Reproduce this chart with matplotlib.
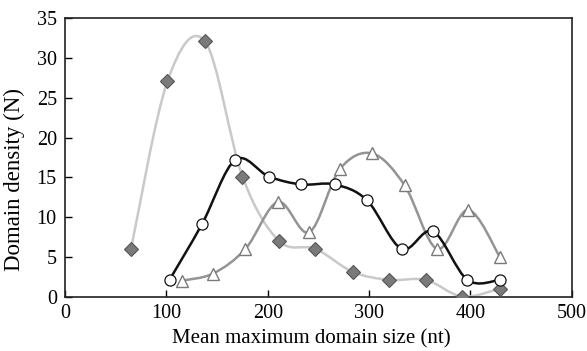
import numpy as np
import matplotlib.pyplot as plt
from matplotlib.path import Path
from matplotlib.patches import PathPatch

plt.rcParams['font.family'] = ['Liberation Serif', 'DejaVu Serif']

# diamonds (light grey curve)
dia_x = [65, 101, 138, 175, 211, 247, 284, 320, 356, 392, 429]
dia_y = [6.0, 27.1, 32.1, 15.1, 7.0, 6.0, 3.1, 2.1, 2.1, 0.0, 1.0]
# circles (black curve)
cir_x = [103, 135, 168, 201, 233, 266, 298, 332, 363, 397, 429]
cir_y = [2.1, 9.1, 17.2, 15.1, 14.1, 14.1, 12.1, 6.0, 8.2, 2.1, 2.1]
# triangles (mid grey curve)
tri_x = [115, 146, 178, 210, 241, 271, 303, 335, 367, 398, 429]
tri_y = [2.0, 2.9, 6.0, 11.9, 8.1, 16.0, 18.0, 14.0, 6.0, 10.9, 5.0]


def smooth_path(xs, ys):
    # bezier segments like a spreadsheet "smoothed line"
    p = np.column_stack([xs, ys]).astype(float)
    ext = np.vstack([p[0], p, p[-1]])
    verts = [p[0]]
    codes = [Path.MOVETO]
    for i in range(len(p) - 1):
        c1 = ext[i + 1] + (ext[i + 2] - ext[i]) / 6
        c2 = ext[i + 2] - (ext[i + 3] - ext[i + 1]) / 6
        verts += [c1, c2, ext[i + 2]]
        codes += [Path.CURVE4] * 3
    return Path(verts, codes)


fig = plt.figure(figsize=(5.87, 3.51), dpi=100)
ax = fig.add_axes([0.111, 0.155, 0.863, 0.793])

for xs, ys, col in [(dia_x, dia_y, '#c9c9c9'), (tri_x, tri_y, '#949494'), (cir_x, cir_y, '#111111')]:
    ax.add_patch(PathPatch(smooth_path(xs, ys), facecolor='none', edgecolor=col, lw=1.8, zorder=2))

ax.plot(dia_x, dia_y, ls='none', marker='D', ms=7, mfc='#7a7a7a', mec='#555555', mew=0.8, zorder=4)
ax.plot(tri_x, tri_y, ls='none', marker='^', ms=8.5, mfc='white', mec='#7a7a7a', mew=1.0, zorder=3)
ax.plot(cir_x, cir_y, ls='none', marker='o', ms=8, mfc='white', mec='#111111', mew=0.9, zorder=5)

ax.set_xlim(0, 500)
ax.set_ylim(0, 35)
ax.set_xticks([0, 100, 200, 300, 400, 500])
ax.set_yticks([0, 5, 10, 15, 20, 25, 30, 35])
ax.tick_params(direction='in', length=5, width=1, labelsize=14.5)
ax.tick_params(axis='x', pad=5)
ax.tick_params(axis='y', pad=6)
for s in ax.spines.values():
    s.set_linewidth(1.2)
    s.set_color('#222222')

ax.set_xlabel('Mean maximum domain size (nt)', fontsize=15)
ax.set_ylabel('Domain density (N)', fontsize=16.5)
ax.xaxis.set_label_coords(0.485, -0.118)
ax.yaxis.set_label_coords(-0.08, 0.42)

fig.savefig('out.png', dpi=100)
